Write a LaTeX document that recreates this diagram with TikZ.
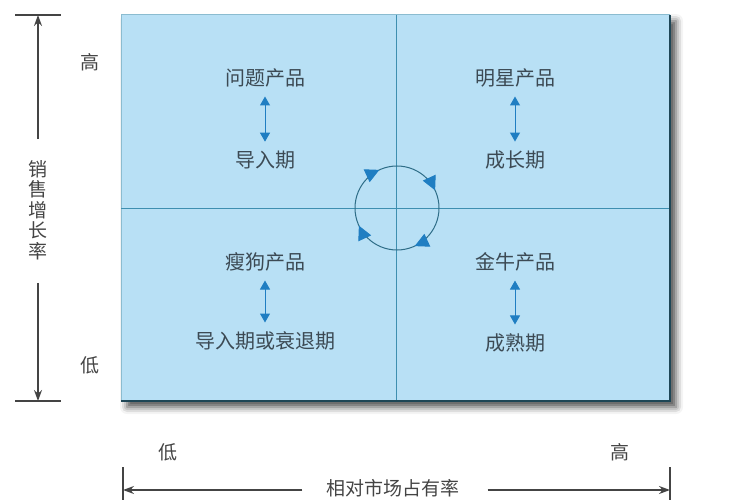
\documentclass[tikz,border=0pt]{standalone}
\usepackage{fontspec}
\usepackage{xcolor}
\usepackage{tikz}
\usetikzlibrary{arrows.meta, shadows.blur, decorations.markings}
\newfontfamily\cjk{Noto Sans CJK SC}
\definecolor{boxblue}{HTML}{B8E0F5}
\definecolor{boxedge}{HTML}{1E4656}
\definecolor{divline}{HTML}{3E8FB0}
\definecolor{tipblue}{HTML}{1F7EC2}
\definecolor{ringline}{HTML}{2F6E88}
\definecolor{qtext}{HTML}{3C4A54}
\definecolor{atext}{HTML}{444444}
\newcommand{\ringtip}{\arrowreversed{Triangle[length=14pt,width=14pt,color=tipblue,fill=tipblue]}}
\tikzset{
  qlabel/.style={font=\cjk\fontsize{20}{23}\selectfont, text=qtext, inner sep=1pt},
  alabel/.style={font=\cjk\fontsize{19}{22}\selectfont, text=atext, inner sep=1pt},
  axis/.style={draw=atext, line width=1.3pt},
  stage/.style={tipblue, line width=1pt, {Triangle[length=9pt,width=10pt]}-{Triangle[length=9pt,width=10pt]}, shorten <=8pt, shorten >=8pt},
  ring/.style={ringline, line width=1pt, postaction={decorate},
    decoration={markings,
      mark=at position 0.069 with {\ringtip},
      mark=at position 0.319 with {\ringtip},
      mark=at position 0.569 with {\ringtip},
      mark=at position 0.819 with {\ringtip}}}
}
\begin{document}
\begin{tikzpicture}[x=1pt,y=-1pt]
  \useasboundingbox (0,0) rectangle (750,500);

  % Matrix box with shadow
  \fill[boxblue, blur shadow={shadow xshift=6pt, shadow yshift=-6pt, shadow blur radius=7pt, shadow opacity=70}] (121,15) rectangle (670,401);
  \draw[divline!60!white, line width=1pt] (121,401) -- (121,15) -- (670,15);
  \draw[boxedge, line width=2.5pt] (670,15) -- (670,401) -- (121,401);
  \draw[divline, line width=1pt] (396,15) -- (396,400);
  \draw[divline, line width=1pt] (121,208) -- (669,208);

  % Quadrants
  \node[qlabel] (wenti)  at (265,78)  {问题产品};
  \node[qlabel] (daoru)  at (265,160) {导入期};
  \node[qlabel] (mingx)  at (515,78)  {明星产品};
  \node[qlabel] (chengz) at (515,160) {成长期};
  \node[qlabel] (shougou) at (265,262) {瘦狗产品};
  \node[qlabel] (shuait)  at (265,341) {导入期或衰退期};
  \node[qlabel] (jinniu)  at (515,262) {金牛产品};
  \node[qlabel] (chengs)  at (515,343) {成熟期};
  \draw[stage] (wenti) -- (daoru);
  \draw[stage] (mingx) -- (chengz);
  \draw[stage] (shougou) -- (shuait);
  \draw[stage] (jinniu) -- (chengs);

  % Cycle in the middle, clockwise
  \coordinate (mid) at (397,208);
  \draw[ring] (mid) circle[radius=42pt];

  % Vertical axis
  \coordinate (vtop) at (38,15);
  \coordinate (vbot) at (38,401);
  \node[alabel, align=center, font=\cjk\fontsize{19}{20.5}\selectfont] (vlabel) at (38,210) {销\\售\\增\\长\\率};
  \draw[axis] (15,15) -- (61,15);
  \draw[axis] (15,401) -- (61,401);
  \draw[axis, -{Stealth[length=11pt,width=8pt]}] (vlabel.north) ++(0,-20) -- (vtop);
  \draw[axis, -{Stealth[length=11pt,width=8pt]}] (vlabel.south) ++(0,22) -- (vbot);
  \node[alabel] (vhigh) at (90,62)  {高};
  \node[alabel] (vlow)  at (90,365) {低};

  % Horizontal axis
  \coordinate (hleft) at (123,490);
  \coordinate (hright) at (670,490);
  \node[alabel] (hlabel) at (393,488) {相对市场占有率};
  \draw[axis] (123,467) -- (123,500);
  \draw[axis] (670,467) -- (670,500);
  \draw[axis, -{Stealth[length=11pt,width=8pt]}] (hlabel.west) ++(-23,2) -- (hleft);
  \draw[axis, -{Stealth[length=11pt,width=8pt]}] (hlabel.east) ++(27,2) -- (hright);
  \node[alabel] (hlow)  at (168,452) {低};
  \node[alabel] (hhigh) at (620,452) {高};
\end{tikzpicture}
\end{document}
